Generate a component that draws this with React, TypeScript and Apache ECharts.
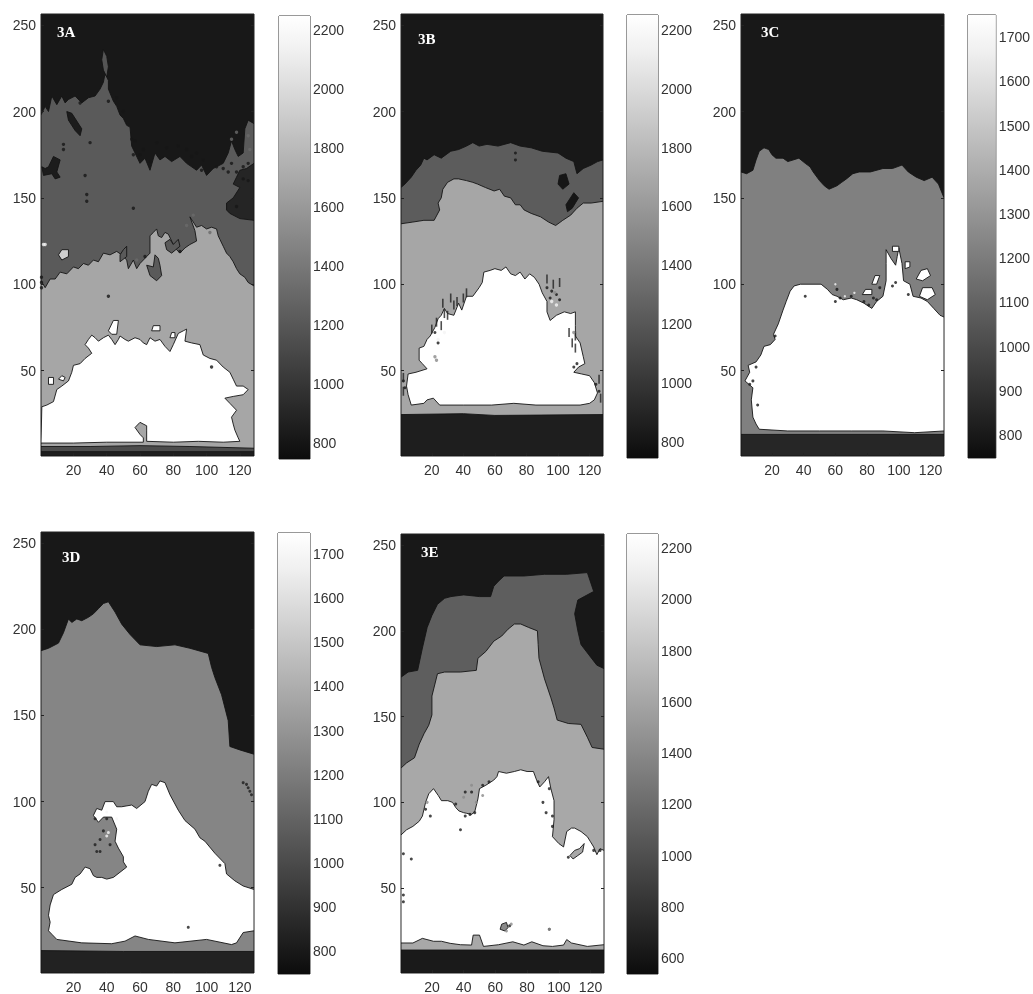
import React, { useEffect, useRef } from "react";
import * as echarts from "echarts";

type Pt = number[];

const xTicks = [20, 40, 60, 80, 100, 120];
const yTicks = [50, 100, 150, 200, 250];
const barTicksWide = [800, 1000, 1200, 1400, 1600, 1800, 2000, 2200];
const barTicksNarrow = [800, 900, 1000, 1100, 1200, 1300, 1400, 1500, 1600, 1700];
const barTicksE = [600, 800, 1000, 1200, 1400, 1600, 1800, 2000, 2200];

// 3A
const aMid: Pt[] = [[0.5,198],[3,203],[5,200],[7,209],[10,204],[13,209],[15,205],[17,207],[21,209],[25,205],[29,208],[33,209],[36,213],[38,217],[39,222],[41,218],[41,213],[44,206],[46,203],[48,198],[50,196],[52,192],[54,191],[55,180],[57,176],[60,170],[63,173],[66,166],[69,176],[72,172],[75,174],[79,171],[84,174],[88,170],[94,166],[97,169],[100,163],[104,167],[110,170],[113,176],[115,183],[117,178],[119,174],[122,176],[123,190],[125,195],[128.5,193],[128.5,0.5],[0.5,0.5]];
const aLight: Pt[] = [[0.5,102],[3,98],[6,103],[9,103],[12,107],[16,106],[20,110],[23,109],[26,112],[29,111],[32,114],[35,113],[38,118],[42,117],[46,119],[49,117],[52,114],[53,109],[56,114],[58,109],[60,112],[62,114],[64,116],[66,118],[66,128],[68,130],[70,132],[71,128],[73,127],[75,130],[77,129],[79,125],[80,123],[82,120],[84,118],[87,121],[90,123],[94,125],[93,131],[90,139],[92,136],[94,133],[97,134],[100,132],[103,133],[106,132],[107,128],[108,126],[110,122],[112,118],[114,116],[116,113],[118,109],[120,106],[123,104],[125,101],[128.5,99],[128.5,0.5],[0.5,0.5]];
const aWhite: Pt[] = [[1,29],[4,30],[8,32],[10,39],[13,41],[17,44],[19,49],[20,53],[24,54],[27,57],[31,60],[29,63],[27,65],[29,68],[31,70.5],[33,69],[35,67],[38,69],[41,70.5],[43,68],[45,65],[47,68],[48,70],[51,68],[53,67],[57,69],[60,68],[62,66],[64,65],[66,69],[69,67],[72,68],[75,64],[78,61],[80,65],[83,71.5],[86,73],[88,74],[87,67],[91,66],[96,65],[98,59],[102,57],[106,56],[110,52],[114,49],[116,45],[118,41],[122,41],[125,39],[122,36],[116,35],[111,34],[114,31],[118,27],[115,23],[116,19],[117,15.5],[119,11],[120,9],[110,8.5],[95,9],[80,8.5],[64,9],[64,15.5],[64,18],[60,20],[57,17],[60,13],[62,11],[62,8.5],[40,8.5],[20,8],[0.5,8]];
const aBand: Pt[] = [[0.5,6],[30,6],[60,6.5],[90,6],[128.5,5],[128.5,0.5],[0.5,0.5]];
const aFloor: Pt[] = [[0.5,3],[128.5,3],[128.5,0.5],[0.5,0.5]];
const aStreak: Pt[] = [[38,236],[40,232],[41,226],[40,220],[38,224],[37,230]];
const aIsland1: Pt[] = [[16,200],[19,199],[25,190],[24,186],[21,189],[17,195]];
const aIsland2: Pt[] = [[1,168],[3,167],[5,168],[8,174],[12,172],[10,165],[12,162],[9,161],[7,164],[2,163]];
const aIsland3: Pt[] = [[112,147],[116,150],[120,156],[116,158],[118,162],[120,166],[124,167],[128.5,170],[128.5,137],[120,138],[114,141],[112,143]];
const aIsland4: Pt[] = [[64,111],[68,110],[69,117],[71,115],[72,111],[73,105],[70,102],[66,105]];
const aIsland5: Pt[] = [[11,117],[13,120],[17,120],[17,116],[13,114]];
const aIsland7: Pt[] = [[5,42],[5,46],[8,46],[8,42]];
const aIsland8: Pt[] = [[11,45],[13,47],[15,46],[14,44]];
const aIsland9: Pt[] = [[41,73],[44,79],[47,79],[46,71],[43,71]];
const aIsland10: Pt[] = [[67,73],[68,76],[72,76],[72,73]];
const aIsland11: Pt[] = [[78,69],[79,72],[81,72],[81,69]];
const aIsland12: Pt[] = [[75,124],[78,126],[80,123],[83,126],[84,122],[79,118],[76,120]];
const aIsland13: Pt[] = [[48,113],[52,116],[52,122],[50,120],[48,117]];
const aSpeckDark: Pt[] = [[14,178],[14,181],[27,163],[28,148],[28,152],[56,144],[41,93],[103,52],[115,170],[118,165],[113,165],[122,168],[125,170],[110,167],[106,168],[98,172],[94,176],[88,178],[76,179],[66,171],[60,175],[56,175],[55,184],[50,200],[46,208],[41,206],[24,205],[30,182],[125,160],[122,161],[118,145],[84,119],[63,116],[0.8,98],[0.8,101],[0.8,104],[97,166],[91,174],[83,180],[70,182],[62,178],[57,183]];
const aSpeckMid: Pt[] = [[115,184],[118,188],[125,186],[126,178],[88,134],[92,140],[102,130],[58,114]];
const aSpeckWhite: Pt[] = [[3,123],[2,123]];
// 3B
const bMid: Pt[] = [[0.5,156],[3,158],[7,162],[10,166],[13,169],[15,173],[17,172],[21.5,175],[26,173],[32,177],[37,178],[42,180],[46,182],[50,180],[55,181],[62,180],[70,182],[76,180],[83,179],[90,177],[100,176],[105,173],[110,171],[112,164],[116,167],[121,169],[125,171],[128.5,172],[128.5,0.5],[0.5,0.5]];
const bLight: Pt[] = [[0.5,135],[8,136],[15,137],[21.5,137],[25,143],[24,147],[26,150],[27,155],[30,159],[34,161],[37,161],[42,160],[46,159],[49,158],[54,156],[59.5,154],[63,155],[66,151],[70,150],[73,146],[76,146],[78.5,143],[83,141],[89,139],[94,136],[98.5,134],[103,137],[108,140],[112,144],[116,147],[121,147],[128.5,148],[128.5,0.5],[0.5,0.5]];
const bWhite: Pt[] = [[7,30],[5,36],[4,41],[5,48],[10,49],[17,51],[14,54],[12,56],[12,63],[15,64],[17,68],[19,70],[22,75],[24,80],[26,82],[28,86],[30,83],[34,82],[37,89],[39,85],[42,93],[46,93],[50,98],[52,101],[53,107],[57,108],[60,109],[64,108],[67,110],[70,106],[73,105],[76,107],[79,103],[82,106],[85,104],[88,100],[90,95],[93,90],[93,84],[95,79],[99,82],[104,84],[108,83],[111,84],[111,76],[111,70],[114,66],[116,58],[117,54],[113,52],[110,49],[115,48],[120,47],[123,43],[125,37],[123,33],[120,31],[114,30],[100,30],[86,30],[72,31],[58,30],[40,30],[25,30],[21,34],[17,33],[15,31]];
const bBand: Pt[] = [[0.5,24.5],[40,25],[60,24],[128.5,24.5],[128.5,0.5],[0.5,0.5]];
const bIsland1: Pt[] = [[101,163],[105,164],[107,158],[103,155],[100,158]];
const bIsland2: Pt[] = [[105,146],[110,153],[113,150],[109,144],[106,142]];
const bSpeckDark: Pt[] = [[73,176],[73,172],[22,72],[24,66],[124,42],[126,38],[2,44],[3,40],[110,52],[112,54],[93,98],[96,96],[99,94],[101,91],[95,92]];
const bStreakDark: Pt[] = [[27,89],[28,83],[32,92],[34,88],[36,90],[30,82],[40,92],[42,95],[23,78],[26,76],[20,74],[93,103],[97,100],[101,101],[107,72],[111,63],[111,70],[109,66],[2,38],[2,46],[126,45],[127,34]];
const bSpeckWhite: Pt[] = [[96,90],[99,88],[24,68],[28,72]];
const bSpeckMid: Pt[] = [[22,58],[23,56],[110,72],[98,95]];
// 3C
const cMid: Pt[] = [[0.5,165],[4,164],[8,166],[10,172],[12,177],[15,179],[18,178],[20,175],[22.5,173],[27,173],[30,171],[37,173],[41,170],[44,168],[46,165],[50,160],[53,157],[56,155],[61,157],[64,159],[67,161],[71,164],[75,165],[82,165],[90,167],[96,167],[102,169],[106,165],[111,162],[116,160],[121,162],[125,158],[128.5,150],[128.5,0.5],[0.5,0.5]];
const cWhite: Pt[] = [[12,16],[10,19],[8,23],[7,33],[8,40],[3,44],[6,49],[5,53],[10,55],[13,59],[15,64],[19,65],[22,68],[21,71],[24,77],[27,85],[29,90],[31.5,96],[34,99],[38,100],[44,100],[51,100],[55,97],[58,94],[61,93],[65,91],[70,92],[73.5,91],[78,89],[83,86],[86,90],[90,93],[92,102],[92,112],[92,120],[95,115],[98,111],[99,116],[100,121],[102,112],[103,102],[107,100],[109,93],[114,92],[118,90],[122,86],[126,82],[128.5,81],[128.5,15],[110,14],[90,15],[70,15],[50,15],[30,15]];
const cBand: Pt[] = [[0.5,13],[128.5,13],[128.5,0.5],[0.5,0.5]];
const cIslandA: Pt[] = [[113,93],[118,91],[123,94],[121,98],[115,98]];
const cIslandB: Pt[] = [[111,103],[115,102],[120,105],[118,109],[114,108]];
const cIslandC: Pt[] = [[77,94],[83,94],[83,97],[79,97]];
const cIslandD: Pt[] = [[83,100],[86,100],[88,105],[85,105]];
const cIslandE: Pt[] = [[104,109],[107,110],[107,113],[104,113]];
const cIslandF: Pt[] = [[96,122],[100,122],[100,119],[96,119]];
const cSpeckDark: Pt[] = [[41,93],[11,30],[10,52],[8,44],[6,42],[60,90],[63,92],[86,91],[81,88],[22,70],[106,94],[96,99],[98,101],[70,93],[61,97],[84,92],[78,90],[88,98]];
const cSpeckWhite: Pt[] = [[60,100],[66,93],[72,95]];
// 3D
const dMid: Pt[] = [[0.5,187.6],[5,189],[11,192],[14,198],[17,206],[19,204],[22,206],[25,205],[29,207],[32,209],[35,212],[38,215],[41,216],[43,213],[45,210],[49,203],[54,197],[60,191],[70,190],[81,191],[90,189],[101,186],[103,178],[105,172],[109,162],[113,147],[114,132],[120,130],[128.5,127.5],[128.5,0.5],[0.5,0.5]];
const dWhite: Pt[] = [[5,25],[6,30],[5,34],[6,40],[8,46],[13,49],[19,52],[21,56],[24,58],[27,62],[30,61],[32,57],[34,56],[37,56],[40,55],[44,56],[48,59],[52,62],[50,65],[50,68],[47,73],[45,77],[46,84],[43,91],[38,91],[35,88],[32,92],[34,96],[37,95],[39,100],[44,100],[46,97],[49,97],[55,98],[58,96],[63,100],[65,106],[67,110],[70,109],[72,112],[75,111],[78,104],[83,95],[87,89],[93,84],[96,79],[99,77],[105,70],[111,64],[112,58],[117,54],[122,51],[128.5,49],[128.5,25],[122,24],[118,18],[115,17],[100,20],[81,18],[65,20],[57,22],[51,19],[43,17.5],[25,18],[10,20],[7,23]];
const dBand: Pt[] = [[0.5,13.5],[50,13],[128.5,13],[128.5,0.5],[0.5,0.5]];
const dSpeckDark: Pt[] = [[33,75],[34,71],[36,78],[38,83],[89,27],[127,104],[125,108],[122,111],[108,63],[40,90],[33,90],[36,71],[42,75],[126,106],[124,110]];
const dSpeckWhite: Pt[] = [[40,80],[41,82],[46,90],[40,94]];
// 3E
const eMid: Pt[] = [[0.5,173],[5,176],[11,177],[14,190],[17,202],[20,209],[23.5,215.5],[28,219],[32,220],[40,221],[50,220],[57,220],[59,226],[62,229],[65.5,232],[78,232],[91,233],[105,233],[118,234],[122,223],[116,220],[112,218],[110,210],[112,200],[114,192],[119,186],[124,180],[128.5,178],[128.5,0.5],[0.5,0.5]];
const eLight: Pt[] = [[0.5,120],[4,123],[9,126],[12,134],[15,140],[18,145],[20,151],[20,162],[23.5,175],[28,176],[38,176],[48,177],[49,184],[54,188],[59,194],[64,197],[68,201],[72,204],[76,204],[81,202],[86.5,200],[87,192],[87.5,184],[91,172],[95,161],[97,155],[99,148],[106,146],[114,145.5],[118,138],[121,132],[128.5,131],[128.5,0.5],[0.5,0.5]];
const eWhite: Pt[] = [[0.5,81],[4,84],[8,86],[12,89],[14,92],[15,96],[16,100],[18,105],[21,108],[24,104],[26,101],[30,101],[33,100],[35,97],[37,95],[40,94],[42,93.6],[45,93],[47,94.5],[49,102],[50,108],[54,110],[59,113],[61,115],[62,118],[67,117],[72,118],[76,119],[80,118],[84,118],[86,113],[88,109],[91,112],[93.5,115],[95,108],[97,101],[97,90],[96,80],[100,76],[103,74],[105,83],[108,85],[110,85],[114,83],[118,80],[120,77],[122,74],[124,69.5],[126,73],[128.5,72],[128.5,17],[118,16],[108,18],[105,20],[103,16.8],[96,16],[90,16.4],[83,18.7],[78,16.8],[71,18.7],[62,17],[52.5,16],[50,22.6],[46,22.6],[45,16.8],[38,17],[31.5,17.8],[26,19],[21,19],[14,20.7],[8,18],[0.5,18]];
const eBand: Pt[] = [[0.5,13.9],[128.5,13.9],[128.5,0.5],[0.5,0.5]];
const eIsland: Pt[] = [[107,69],[110,72],[113,73],[116,76],[115,71],[112,69],[109,67]];
const eIsland2: Pt[] = [[63,26],[64,29],[67,30],[68,27],[66,25]];
const eSpeckDark: Pt[] = [[41,92],[44,93],[47,94],[38,84],[16,96],[19,92],[41,106],[45,106],[52,110],[56,112],[2,70],[7,67],[2,46],[2,42],[69,28],[94,26],[90,100],[92,94],[94,108],[87,112],[106,68],[122,72],[126,72],[35,99],[96,92],[96,86]];
const eSpeckMid: Pt[] = [[67,25],[70,29],[94,26],[40,103],[48,100],[17,100],[45,110],[52,104]];

const panels = [
  { x: 41, y: 14, w: 213, h: 442, bx: 279, by: 16, bw: 31, bh: 443, bMin: 746, bMax: 2248, ticks: barTicksWide, label: "3A", lx: 57, ly: 33,
    layers: [[aMid, "#5a5a5a"], [aLight, "#a6a6a6"], [aWhite, "#ffffff"], [aBand, "#4c4c4c"], [aFloor, "#1e1e1e"]],
    islands: [[aStreak, "#555555"], [aIsland1, "#1c1c1c"], [aIsland2, "#1c1c1c"], [aIsland3, "#252525"], [aIsland4, "#5a5a5a"], [aIsland5, "#cfcfcf"], [aIsland7, "#ffffff"], [aIsland8, "#ffffff"], [aIsland9, "#ffffff"], [aIsland10, "#ffffff"], [aIsland11, "#ffffff"], [aIsland12, "#5a5a5a"], [aIsland13, "#5a5a5a"]],
    specks: [[aSpeckDark, "#161616", 3.4], [aSpeckMid, "#6a6a6a", 3.4], [aSpeckWhite, "#f4f4f4", 3.4]] },
  { x: 401, y: 14, w: 202, h: 442, bx: 627, by: 15, bw: 31, bh: 443, bMin: 746, bMax: 2250, ticks: barTicksWide, label: "3B", lx: 418, ly: 40,
    layers: [[bMid, "#5c5c5c"], [bLight, "#a6a6a6"], [bWhite, "#ffffff"], [bBand, "#1e1e1e"]],
    islands: [[bIsland1, "#161616"], [bIsland2, "#161616"]],
    specks: [[bSpeckDark, "#161616", 3], [bStreakDark, "#222222", [1.6, 9]], [bSpeckWhite, "#f4f4f4", 3.4], [bSpeckMid, "#8a8a8a", 3.4]] },
  { x: 741, y: 14, w: 203, h: 442, bx: 968, by: 15, bw: 30, bh: 443, bMin: 748, bMax: 1750, ticks: barTicksNarrow, label: "3C", lx: 761, ly: 33,
    layers: [[cMid, "#808080"], [cWhite, "#ffffff"], [cBand, "#262626"]],
    islands: [[cIslandA, "#ffffff"], [cIslandB, "#ffffff"], [cIslandC, "#ffffff"], [cIslandD, "#ffffff"], [cIslandE, "#ffffff"], [cIslandF, "#ffffff"]],
    specks: [[cSpeckDark, "#161616", 3], [cSpeckWhite, "#f6f6f6", 2.4]] },
  { x: 41, y: 532, w: 213, h: 441, bx: 278, by: 533, bw: 32, bh: 441, bMin: 748, bMax: 1748, ticks: barTicksNarrow, label: "3D", lx: 62, ly: 558,
    layers: [[dMid, "#858585"], [dWhite, "#ffffff"], [dBand, "#222222"]],
    islands: [],
    specks: [[dSpeckDark, "#1c1c1c", 3], [dSpeckWhite, "#f6f6f6", 3]] },
  { x: 401, y: 534, w: 203, h: 439, bx: 627, by: 534, bw: 31, bh: 440, bMin: 538, bMax: 2255, ticks: barTicksE, label: "3E", lx: 421, ly: 553,
    layers: [[eMid, "#5e5e5e"], [eLight, "#a8a8a8"], [eWhite, "#ffffff"], [eBand, "#1a1a1a"]],
    islands: [[eIsland, "#a8a8a8"], [eIsland2, "#8a8a8a"]],
    specks: [[eSpeckDark, "#1a1a1a", 3], [eSpeckMid, "#8a8a8a", 3]] },
];

const FONT = "Liberation Sans";
const INK = "#333333";
const plain = (v: number) => String(v);

function buildOption() {
  const grid: any[] = [];
  const xAxis: any[] = [];
  const yAxis: any[] = [];
  const series: any[] = [];
  panels.forEach((p: any) => {
    const gi = grid.length;
    grid.push({ left: p.x, top: p.y, width: p.w, height: p.h, show: true, backgroundColor: "#181818", borderColor: "#222222", borderWidth: 1 });
    const xi = xAxis.length;
    xAxis.push({
      type: "value", gridIndex: gi, min: 0.5, max: 128.5, z: 5,
      axisLine: { show: false }, splitLine: { show: false },
      axisTick: { inside: true, length: 3, customValues: xTicks, lineStyle: { color: "#222222" } },
      axisLabel: { customValues: xTicks, formatter: plain, margin: 7, fontFamily: FONT, fontSize: 14, color: INK, hideOverlap: false },
    });
    const yi = yAxis.length;
    const yBase = { type: "value", gridIndex: gi, min: 0.5, max: 256.5, z: 5, axisLine: { show: false }, splitLine: { show: false } };
    yAxis.push({
      ...yBase, position: "left",
      axisTick: { inside: true, length: 3, customValues: yTicks, lineStyle: { color: "#222222" } },
      axisLabel: { customValues: yTicks, formatter: plain, margin: 5, fontFamily: FONT, fontSize: 14, color: INK },
    });
    yAxis.push({
      ...yBase, position: "right",
      axisTick: { inside: true, length: 3, customValues: yTicks, lineStyle: { color: "#222222" } },
      axisLabel: { show: false },
    });
    const polygon = (pts: Pt[], fill: string) => ({
      type: "custom", coordinateSystem: "cartesian2d", xAxisIndex: xi, yAxisIndex: yi, data: pts, silent: true, clip: true, z: 2,
      renderItem: (params: any, api: any) =>
        params.dataIndex === 0
          ? { type: "polygon", shape: { points: pts.map((q) => api.coord(q)) }, style: { fill, stroke: "#141414", lineWidth: 0.9 } }
          : null,
    });
    p.layers.forEach(([pts, fill]: any) => series.push(polygon(pts, fill)));
    p.islands.forEach(([pts, fill]: any) => series.push(polygon(pts, fill)));
    p.specks.forEach(([pts, fill, size]: any) =>
      series.push({ type: "scatter", xAxisIndex: xi, yAxisIndex: yi, data: pts, silent: true, symbol: Array.isArray(size) ? "rect" : "circle", symbolSize: size, z: 3, itemStyle: { color: fill } })
    );

    // colour bar
    const gb = grid.length;
    grid.push({ left: p.bx, top: p.by, width: p.bw, height: p.bh, show: true, backgroundColor: "#ffffff", borderColor: "#333333", borderWidth: 1 });
    const bxi = xAxis.length;
    xAxis.push({ type: "category", gridIndex: gb, data: ["bar"], show: false });
    const byi = yAxis.length;
    const bBase = { type: "value", gridIndex: gb, min: p.bMin, max: p.bMax, z: 5, axisLine: { show: false }, splitLine: { show: false } };
    yAxis.push({
      ...bBase, position: "right",
      axisTick: { inside: true, length: 3, customValues: p.ticks, lineStyle: { color: "#222222" } },
      axisLabel: { customValues: p.ticks, formatter: plain, margin: 3, fontFamily: FONT, fontSize: 14, color: INK },
    });
    yAxis.push({
      ...bBase, position: "left",
      axisTick: { inside: true, length: 3, customValues: p.ticks, lineStyle: { color: "#222222" } },
      axisLabel: { show: false },
    });
    series.push({
      type: "bar", xAxisIndex: bxi, yAxisIndex: byi, data: [p.bMax], barWidth: "100%", silent: true, z: 2,
      itemStyle: {
        color: new echarts.graphic.LinearGradient(0, 0, 0, 1, [
          { offset: 0, color: "#ffffff" },
          { offset: 0.08, color: "#f0f0f0" },
          { offset: 1, color: "#0c0c0c" },
        ]),
      },
    });
  });
  return {
    animation: false,
    backgroundColor: "#ffffff",
    grid, xAxis, yAxis, series,
    graphic: panels.map((p) => ({
      type: "text", left: p.lx, top: p.ly - 9, z: 20,
      style: { text: p.label, fill: "#ffffff", font: 'bold 15px "Liberation Serif"' },
    })),
  };
}

export default function App() {
  const ref = useRef<HTMLDivElement>(null);
  useEffect(() => {
    document.body.style.margin = "0";
    const chart = echarts.init(ref.current!, undefined, { renderer: "svg" });
    chart.setOption(buildOption() as any);
    return () => chart.dispose();
  }, []);
  return <div ref={ref} style={{ width: 1033, height: 994, filter: "blur(0.4px)" }} />;
}
